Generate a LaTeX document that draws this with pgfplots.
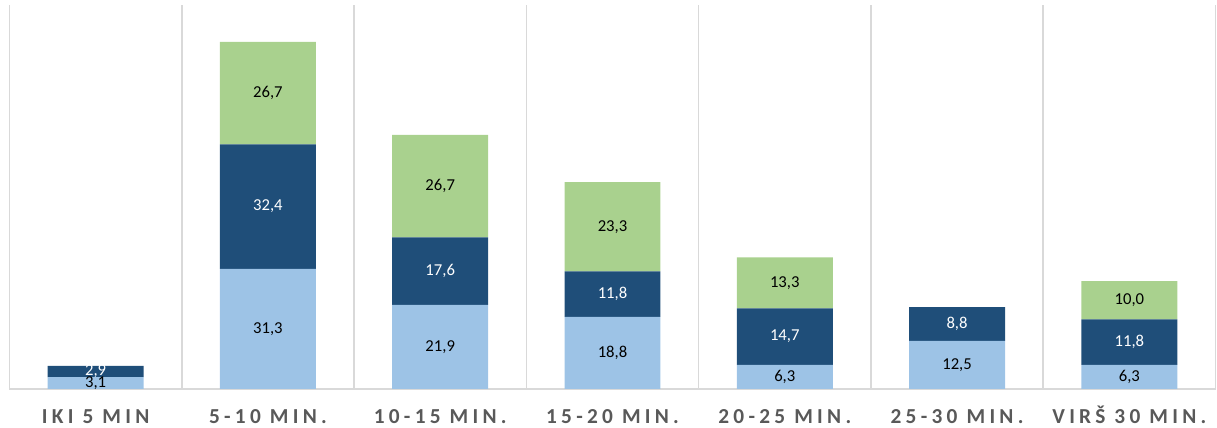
\documentclass[border=0pt]{standalone}
\usepackage{fontspec}
\setmainfont{Carlito}
\newfontfamily\catfont[LetterSpace=20]{Carlito}
\usepackage{pgfplots}
\usepackage{pgfplotstable}
\pgfplotsset{compat=1.18}

\definecolor{lightblue}{HTML}{9DC3E6}
\definecolor{darkblue}{HTML}{1F4E79}
\definecolor{lightgreen}{HTML}{A9D18E}
\definecolor{gridgray}{HTML}{D9D9D9}
\definecolor{labelgray}{HTML}{595959}

\pgfplotstableread{
x y
0 3.1
1 31.3
2 21.9
3 18.8
4 6.3
5 12.5
6 6.3
}\seriesA
\pgfplotstableread{
x y
0 2.9
1 32.4
2 17.6
3 11.8
4 14.7
5 8.8
6 11.8
}\seriesB
\pgfplotstableread{
x y
0 0
1 26.7
2 26.7
3 23.3
4 13.3
5 0
6 10.0
}\seriesC

\begin{document}
\begin{tikzpicture}
\useasboundingbox (0,0) rectangle (912.75pt,321pt);
\begin{axis}[
    at={(7.125pt,29.25pt)}, anchor=south west,
    scale only axis,
    width=904.5pt, height=288pt,
    ybar stacked,
    bar width=0.557,
    xmin=-0.5, xmax=6.5,
    ymin=0, ymax=100,
    axis line style={draw=none},
    xtick={0,...,6},
    xticklabels={IKI 5 MIN,5-10 MIN.,10-15 MIN.,15-20 MIN.,20-25 MIN.,25-30 MIN.,VIRŠ 30 MIN.},
    major tick length=0pt,
    minor xtick={-0.5,0.5,...,6.5},
    minor tick length=0pt,
    xminorgrids,
    ytick={0}, yticklabels={}, ymajorgrids,
    grid style={gridgray, line width=1.1pt},
    minor grid style={gridgray, line width=1.1pt},
    xticklabel style={anchor=base, yshift=-26pt, font=\catfont\bfseries\fontsize{16}{18}\selectfont, text=labelgray},
    nodes near coords={\pgfmathfloatifflags{\pgfplotspointmeta}{0}{}{\pgfmathprintnumber{\pgfplotspointmeta}}},
    every node near coord/.append style={anchor=center, font=\fontsize{12.5}{14}\selectfont},
    /pgf/number format/.cd, fixed, fixed zerofill, precision=1, use comma, assume math mode=true,
]
\addplot[fill=lightblue, draw=none] table[x=x, y=y] {\seriesA};
\addplot[fill=darkblue, draw=none, every node near coord/.append style={text=white}] table[x=x, y=y] {\seriesB};
\addplot[fill=lightgreen, draw=none] table[x=x, y=y] {\seriesC};
\end{axis}
\end{tikzpicture}
\end{document}
